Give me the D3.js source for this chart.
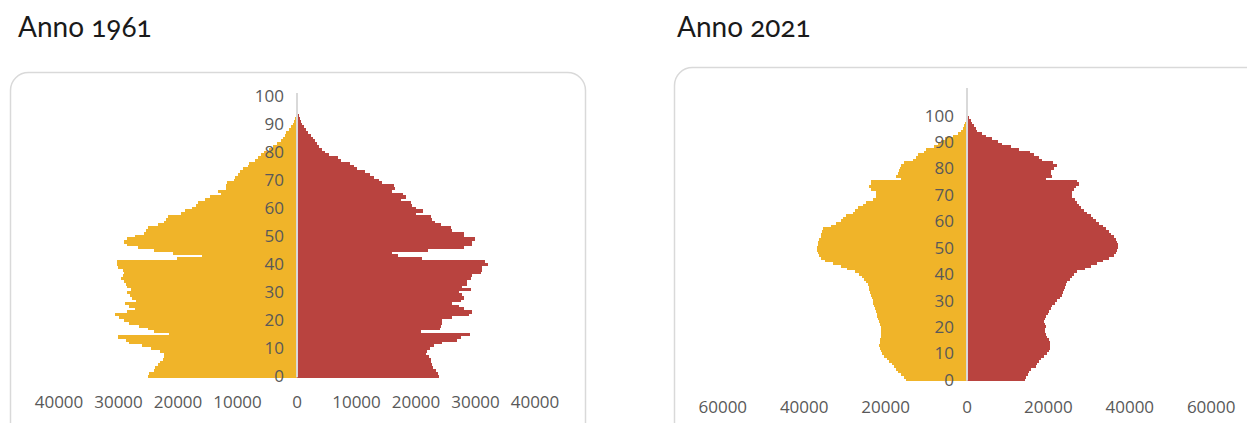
<!DOCTYPE html>
<html>
<head>
<meta charset="utf-8">
<script src="https://cdn.jsdelivr.net/npm/d3@7"></script>
<style>
  body { margin: 0; background: #fff; }
  svg { display: block; }
  .tick-label { font-family: "Open Sans", sans-serif; font-size: 17px; fill: #595959; }
  .title { font-family: Lato, sans-serif; font-size: 28px; fill: #1a1a1a; font-variant-numeric: oldstyle-nums; }
</style>
</head>
<body>
<div id="container"></div>
<script>
// eta (0..100 anni)
var ages = d3.range(0, 101);

// Anno 1961 - barre gialle (sinistra) e rosse (destra), valori per eta 0..100
var left1961 = [25100, 24800, 24000, 23900, 23400, 23000, 22600, 22400, 22300, 23000,
  24500, 26000, 28200, 28700, 30100, 21500, 24000, 25100, 26500, 28200,
  29000, 29900, 30600, 28500, 27300, 28200, 28900, 27100, 27800, 28000,
  28500, 27900, 28600, 28700, 29100, 29500, 29200, 29000, 29300, 30100,
  30300, 30200, 20200, 15900, 20900, 24000, 26700, 28500, 29100, 28500,
  27300, 25700, 25400, 25100, 23400, 22300, 22000, 21700, 19500, 18900,
  17700, 17000, 16700, 15500, 14700, 12800, 13300, 12000, 11900, 11800,
  10600, 10500, 9900, 9500, 9100, 8300, 8000, 7100, 6500, 6000,
  5500, 4700, 4100, 3300, 2700, 2400, 2100, 1850, 1300, 1000,
  700, 500, 350, 170, 80, 40, 20, 10, 5, 0, 0];
var right1961 = [23850, 23750, 23300, 22850, 22700, 22600, 22450, 22200, 21600, 21800,
  22300, 23000, 24400, 26950, 27500, 29000, 20800, 24000, 24150, 24400,
  24400, 26000, 28900, 29450, 28000, 27250, 26100, 27500, 28050, 27800,
  27250, 29200, 27700, 28600, 28600, 29200, 29350, 30850, 31050, 31150,
  32050, 31600, 21000, 17000, 16000, 22000, 28000, 29350, 29450, 29900,
  28150, 28050, 26100, 25800, 24150, 23200, 22750, 22450, 19950, 21150,
  19950, 19350, 19100, 17400, 18350, 17800, 16000, 16500, 16300, 14350,
  13700, 12950, 12200, 11400, 10100, 9500, 8850, 7400, 6950, 5400,
  4700, 4150, 3700, 3300, 3000, 2700, 2300, 1900, 1450, 1100,
  850, 650, 450, 300, 100, 20, 0, 0, 0, 0, 0];

// Anno 2021
var left2021 = [15000, 15600, 16200, 17000, 17400, 17900, 18500, 19100, 19700, 20300,
  20800, 21100, 21400, 21500, 21400, 21300, 21200, 21100, 21100, 21100,
  21200, 21400, 21600, 21900, 22000, 22100, 22400, 22700, 22900, 23000,
  23200, 23400, 23600, 23800, 24000, 24200, 24400, 24800, 25200, 25800,
  26500, 27500, 29500, 31000, 33000, 34800, 35800, 36300, 36700, 36900,
  36800, 36700, 36600, 36400, 35900, 35800, 35600, 35400, 33400, 32200,
  31000, 30500, 29700, 28100, 27500, 26800, 25600, 24800, 23200, 22400,
  22400, 22400, 23600, 24000, 23600, 23500, 16200, 17400, 17000, 16700,
  16400, 16200, 15400, 13300, 12500, 12000, 10500, 10000, 8000, 7200,
  6400, 5500, 3500, 2300, 1500, 1060, 820, 400, 200, 80, 30];
var right2021 = [14200, 14400, 15000, 15300, 15700, 16900, 17300, 17700, 18300, 18900,
  19600, 20100, 20400, 20500, 20300, 20100, 19700, 19400, 19200, 19200,
  19300, 19200, 18900, 19100, 19500, 19900, 20200, 20600, 21000, 21600,
  22200, 22800, 23400, 23600, 23800, 24000, 24300, 24600, 25200, 25700,
  26300, 27100, 29000, 30500, 32000, 33500, 35000, 36000, 36500, 36800,
  37000, 37000, 36800, 36500, 36000, 35500, 35000, 34200, 33300, 32500,
  31700, 31000, 30400, 29600, 28800, 28000, 27600, 27100, 26500, 25900,
  25800, 25700, 26300, 26800, 27500, 27100, 19300, 20800, 20600, 20600,
  21400, 22200, 21100, 18500, 17700, 16500, 15600, 12800, 10700, 8700,
  7500, 6200, 4750, 3770, 2540, 2100, 1720, 1310, 900, 500, 300];

// etichette degli assi
var yTicks = [0, 10, 20, 30, 40, 50, 60, 70, 80, 90, 100];
var xTicks1961 = [-40000, -30000, -20000, -10000, 0, 10000, 20000, 30000, 40000];
var xTicks2021 = [-60000, -40000, -20000, 0, 20000, 40000, 60000];

var width = 1247;
var height = 423;
var yellow = "#F0B429";
var red = "#B9433F";

var svg = d3.select("#container")
  .append("svg")
  .attr("width", width)
  .attr("height", height);

function drawPyramid(opt) {
  var g = svg.append("g");

  // riquadro arrotondato
  g.append("rect")
    .attr("x", opt.card[0])
    .attr("y", opt.card[1])
    .attr("width", opt.card[2])
    .attr("height", opt.card[3])
    .attr("rx", 18)
    .attr("fill", "none")
    .attr("stroke", "#d9d9d9")
    .attr("stroke-width", 1.5);

  g.append("text")
    .attr("class", "title")
    .attr("x", opt.titleX)
    .attr("y", 37)
    .text(opt.title);

  var xScale = d3.scaleLinear()
    .domain(opt.xDomain)
    .range(opt.xRange);

  var yScale = d3.scaleBand()
    .domain(ages)
    .range(opt.yRange)
    .paddingInner(0);

  var x0 = xScale(0);

  g.selectAll("rect.left")
    .data(ages)
    .enter()
    .append("rect")
    .attr("class", "left")
    .attr("x", (d, i) => xScale(-opt.left[i]))
    .attr("y", (d) => yScale(d))
    .attr("width", (d, i) => x0 - xScale(-opt.left[i]))
    .attr("height", yScale.bandwidth() + 0.6)
    .attr("fill", yellow)
    .attr("shape-rendering", "crispEdges");

  g.selectAll("rect.right")
    .data(ages)
    .enter()
    .append("rect")
    .attr("class", "right")
    .attr("x", x0)
    .attr("y", (d) => yScale(d))
    .attr("width", (d, i) => xScale(opt.right[i]) - x0)
    .attr("height", yScale.bandwidth() + 0.6)
    .attr("fill", red)
    .attr("shape-rendering", "crispEdges");

  // asse verticale
  g.append("line")
    .attr("x1", x0)
    .attr("x2", x0)
    .attr("y1", opt.axisTop)
    .attr("y2", opt.yRange[0])
    .attr("stroke", "#d9d9d9")
    .attr("stroke-width", 2);

  g.selectAll("text.ylab")
    .data(yTicks)
    .enter()
    .append("text")
    .attr("class", "tick-label ylab")
    .attr("x", x0 - 13)
    .attr("y", (d) => yScale(d) + yScale.bandwidth() / 2)
    .attr("text-anchor", "end")
    .attr("dominant-baseline", "central")
    .text((d) => d);

  g.selectAll("text.xlab")
    .data(opt.xTicks)
    .enter()
    .append("text")
    .attr("class", "tick-label xlab")
    .attr("x", (d) => xScale(d))
    .attr("y", opt.xLabelY)
    .attr("text-anchor", "middle")
    .attr("dominant-baseline", "central")
    .text((d) => Math.abs(d));
}

drawPyramid({
  title: "Anno 1961",
  titleX: 18,
  card: [10.5, 72.5, 575, 380],
  left: left1961,
  right: right1961,
  xDomain: [-40000, 40000],
  xRange: [59, 535],
  yRange: [377.3, 94.5],
  axisTop: 93,
  xTicks: xTicks1961,
  xLabelY: 401
});

drawPyramid({
  title: "Anno 2021",
  titleX: 677,
  card: [674.5, 67.5, 600, 380],
  left: left2021,
  right: right2021,
  xDomain: [-60000, 60000],
  xRange: [722.8, 1211.2],
  yRange: [380.7, 113.7],
  axisTop: 88,
  xTicks: xTicks2021,
  xLabelY: 406
});
</script>
</body>
</html>
